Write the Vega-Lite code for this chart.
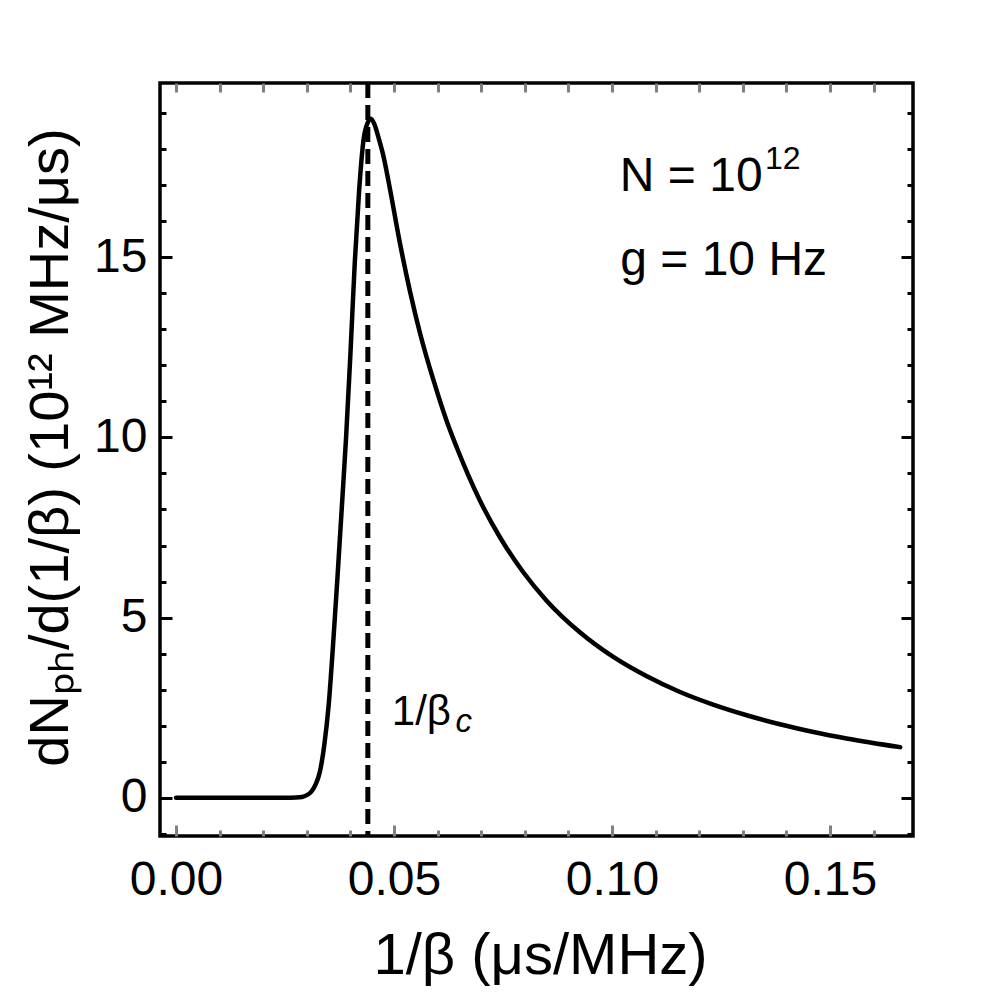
{
  "$schema": "https://vega.github.io/schema/vega-lite/v6.json",
  "width": 753,
  "height": 753,
  "autosize": {"type": "none"},
  "padding": {"left": 160, "top": 83, "right": 87, "bottom": 162},
  "background": "white",
  "config": {
    "view": {"stroke": "black", "strokeWidth": 3.5},
    "font": "Liberation Sans",
    "axis": {"grid": false, "domain": false, "labelColor": "black", "titleColor": "black", "labelFont": "Liberation Sans", "titleFont": "Liberation Sans", "titleFontWeight": "normal"}
  },
  "datasets": {
    "curve": [
      {"x": 0.0, "y": 0.0}, {"x": 0.005, "y": 0.0}, {"x": 0.01, "y": 0.0}, {"x": 0.015, "y": 0.0},
      {"x": 0.02, "y": 0.0}, {"x": 0.025, "y": 0.0}, {"x": 0.0275, "y": 0.005},
      {"x": 0.0289, "y": 0.02}, {"x": 0.03, "y": 0.07}, {"x": 0.031, "y": 0.16},
      {"x": 0.032, "y": 0.36}, {"x": 0.033, "y": 0.72}, {"x": 0.034, "y": 1.45},
      {"x": 0.035, "y": 2.55}, {"x": 0.036, "y": 4.2}, {"x": 0.037, "y": 6.05},
      {"x": 0.038, "y": 8.0}, {"x": 0.039, "y": 9.98}, {"x": 0.04, "y": 12.3},
      {"x": 0.041, "y": 14.85}, {"x": 0.042, "y": 16.85}, {"x": 0.043, "y": 18.25},
      {"x": 0.044, "y": 18.75}, {"x": 0.0447, "y": 18.85}, {"x": 0.0455, "y": 18.7},
      {"x": 0.0465, "y": 18.3}, {"x": 0.0476, "y": 17.8}, {"x": 0.0491, "y": 16.88},
      {"x": 0.0514, "y": 15.37}, {"x": 0.0537, "y": 14.04}, {"x": 0.056, "y": 12.88},
      {"x": 0.059, "y": 11.61}, {"x": 0.0621, "y": 10.45}, {"x": 0.0644, "y": 9.72},
      {"x": 0.067, "y": 8.96}, {"x": 0.0697, "y": 8.25}, {"x": 0.0743, "y": 7.23},
      {"x": 0.0797, "y": 6.25}, {"x": 0.085, "y": 5.47}, {"x": 0.0927, "y": 4.585},
      {"x": 0.1003, "y": 3.907}, {"x": 0.108, "y": 3.369}, {"x": 0.1156, "y": 2.933},
      {"x": 0.1232, "y": 2.583}, {"x": 0.1309, "y": 2.288}, {"x": 0.1385, "y": 2.038},
      {"x": 0.1462, "y": 1.825}, {"x": 0.1538, "y": 1.645}, {"x": 0.1661, "y": 1.403}
    ]
  },
  "resolve": {"axis": {"x": "independent", "y": "independent"}},
  "layer": [
    {
      "data": {"name": "curve"},
      "mark": {"type": "line", "color": "black", "strokeWidth": 4.5, "strokeCap": "round", "strokeJoin": "round", "interpolate": "monotone", "clip": true},
      "encoding": {
        "x": {
          "field": "x", "type": "quantitative",
          "scale": {"domain": [-0.00367, 0.16904], "nice": false, "zero": false},
          "axis": {
            "orient": "bottom", "values": [0, 0.05, 0.1, 0.15], "format": ".2f",
            "tickSize": -11, "tickWidth": 3, "tickColor": "#808080",
            "labelPadding": 31.5, "labelFontSize": 48, "labelFlush": false, "labelOverlap": false,
            "title": "1/β (μs/MHz)", "titleFontSize": 58, "titleBaseline": "alphabetic", "titleY": 137, "titleX": 380
          }
        },
        "y": {
          "field": "y", "type": "quantitative",
          "scale": {"domain": [-1.064, 19.84], "nice": false, "zero": false},
          "axis": {
            "orient": "left", "values": [0, 5, 10, 15],
            "tickSize": -12, "tickWidth": 3, "tickColor": "black",
            "labelPadding": 25, "labelFontSize": 48, "labelFlush": false, "labelOverlap": false,
            "title": "dNₚₕ/d(1/β) (10¹² MHz/μs)", "titleFontSize": 56, "titleBaseline": "alphabetic", "titleX": -93, "titleY": 364, "titleAngle": -90
          }
        }
      }
    },
    {
      "data": {"values": [{"xc": 0.044}]},
      "mark": {"type": "rule", "color": "black", "strokeWidth": 5, "strokeDash": [15, 7]},
      "encoding": {
        "x": {
          "field": "xc", "type": "quantitative",
          "axis": {
            "orient": "bottom",
            "values": [0.01, 0.02, 0.03, 0.04, 0.06, 0.07, 0.08, 0.09, 0.11, 0.12, 0.13, 0.14, 0.16],
            "labels": false, "tickSize": -6, "tickWidth": 3, "tickColor": "#808080", "title": null
          }
        }
      }
    },
    {
      "data": {"values": [{"tx": 0.1018, "ty": 16.83, "label": "N = 10"}, {"tx": 0.1019, "ty": 14.52, "label": "g = 10 Hz"}]},
      "mark": {"type": "text", "font": "Liberation Sans", "fontSize": 48, "align": "left", "baseline": "alphabetic", "color": "black"},
      "encoding": {
        "x": {
          "field": "tx", "type": "quantitative",
          "axis": {
            "orient": "top",
            "values": [0, 0.01, 0.02, 0.03, 0.04, 0.05, 0.06, 0.07, 0.08, 0.09, 0.1, 0.11, 0.12, 0.13, 0.14, 0.15, 0.16],
            "labels": false, "tickSize": -9, "tickWidth": 3, "tickColor": "#808080", "title": null
          }
        },
        "y": {
          "field": "ty", "type": "quantitative",
          "axis": {
            "orient": "right", "values": [0, 5, 10, 15],
            "labels": false, "tickSize": -12, "tickWidth": 3, "tickColor": "black", "title": null
          }
        },
        "text": {"field": "label"}
      }
    },
    {
      "data": {"values": [{"tx": 0.1351, "ty": 17.44, "label": "12"}]},
      "mark": {"type": "text", "font": "Liberation Sans", "fontSize": 32, "align": "left", "baseline": "alphabetic", "color": "black"},
      "encoding": {
        "x": {"field": "tx", "type": "quantitative", "axis": null},
        "y": {"field": "ty", "type": "quantitative", "axis": null},
        "text": {"field": "label"}
      }
    },
    {
      "data": {"values": [{"tx": 0.0495, "ty": 2.02, "label": "1/β"}]},
      "mark": {"type": "text", "font": "Liberation Sans", "fontSize": 42, "align": "left", "baseline": "alphabetic", "color": "black"},
      "encoding": {
        "x": {"field": "tx", "type": "quantitative", "axis": null},
        "y": {
          "field": "ty", "type": "quantitative",
          "axis": {
            "orient": "right",
            "values": [-1, 1, 2, 3, 4, 6, 7, 8, 9, 11, 12, 13, 14, 16, 17, 18, 19],
            "labels": false, "tickSize": -6, "tickWidth": 3, "tickColor": "black", "title": null
          }
        },
        "text": {"field": "label"}
      }
    },
    {
      "data": {"values": [{"tx": 0.0641, "ty": 1.83, "label": "c"}]},
      "mark": {"type": "text", "font": "Liberation Sans", "fontSize": 33, "fontStyle": "italic", "align": "left", "baseline": "alphabetic", "color": "black"},
      "encoding": {
        "x": {"field": "tx", "type": "quantitative", "axis": null},
        "y": {
          "field": "ty", "type": "quantitative",
          "axis": {
            "orient": "left",
            "values": [-1, 1, 2, 3, 4, 6, 7, 8, 9, 11, 12, 13, 14, 16, 17, 18, 19],
            "labels": false, "tickSize": -6, "tickWidth": 3, "tickColor": "black", "title": null
          }
        },
        "text": {"field": "label"}
      }
    }
  ]
}
